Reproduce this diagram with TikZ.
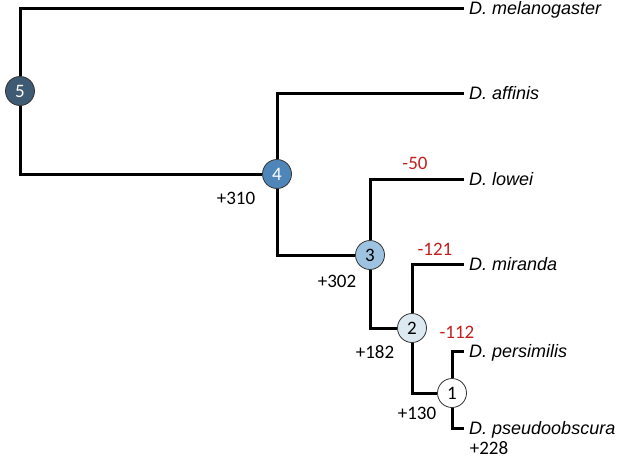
\documentclass[tikz,border=0pt]{standalone}
\usepackage{fontspec}
\setmainfont{Carlito}
\newfontfamily\arialfont{Liberation Sans}
\definecolor{anc5}{HTML}{3F5A73}
\definecolor{anc4}{HTML}{4F86BA}
\definecolor{anc3}{HTML}{9DC3E0}
\definecolor{anc2}{HTML}{DCE9F1}
\definecolor{lossred}{HTML}{C41E1E}

\begin{document}
\begin{tikzpicture}[x=1pt,y=-1pt,
    branch/.style={line width=3pt},
    anc/.style={circle,draw=black!80,line width=0.8pt,minimum size=29pt,inner sep=0pt,font=\fontsize{19}{19}\selectfont},
    species/.style={anchor=west,inner sep=5pt,text height=12.5pt,text depth=0pt,font=\arialfont\itshape\fontsize{18}{18}\selectfont},
    gain/.style={font=\fontsize{19}{19}\selectfont},
    loss/.style={gain,text=lossred}]
        \useasboundingbox (0,0) rectangle (617,464);
        % ancestral nodes
        \node[anc,fill=anc5,text=white] (n5) at (20,91) {5};
        \node[anc,fill=anc4,text=white] (n4) at (277,174) {4};
        \node[anc,fill=anc3] (n3) at (370,255) {3};
        \node[anc,fill=anc2] (n2) at (412,328) {2};
        \node[anc,fill=white] (n1) at (452,393) {1};
        % leaves
        \foreach \leaf/\name/\y in {mel/melanogaster/8, aff/affinis/93, low/lowei/179, mir/miranda/264, per/persimilis/351, pse/pseudoobscura/428}
        \node[species] (\leaf) at (464,\y) {D. \name};
        % branches
        \draw[branch] (n5) |- (mel.west);
        \draw[branch] (n5) |- (n4);
        \draw[branch] (n4) |- (aff.west);
        \draw[branch] (n4) |- (n3);
        \draw[branch] (n3) |- (low.west);
        \draw[branch] (n3) |- (n2);
        \draw[branch] (n2) |- (mir.west);
        \draw[branch] (n2) |- (n1);
        \draw[branch] (n1) |- (per.west);
        \draw[branch] (n1) |- (pse.west);
        % gains and losses
        \foreach \lbl/\x/\y/\txt in {g4/236/198/+310, g3/337/281/+302, g2/375/352/+182, g1/417/413/+130, gpse/489/448/+228}
        \node[gain] (\lbl) at (\x,\y) {\txt};
        \foreach \lbl/\x/\y/\txt in {llow/415/163/-50, lmir/435/249/-121, lper/457/332/-112}
        \node[loss] (\lbl) at (\x,\y) {\txt};
      \end{tikzpicture}
\end{document}
